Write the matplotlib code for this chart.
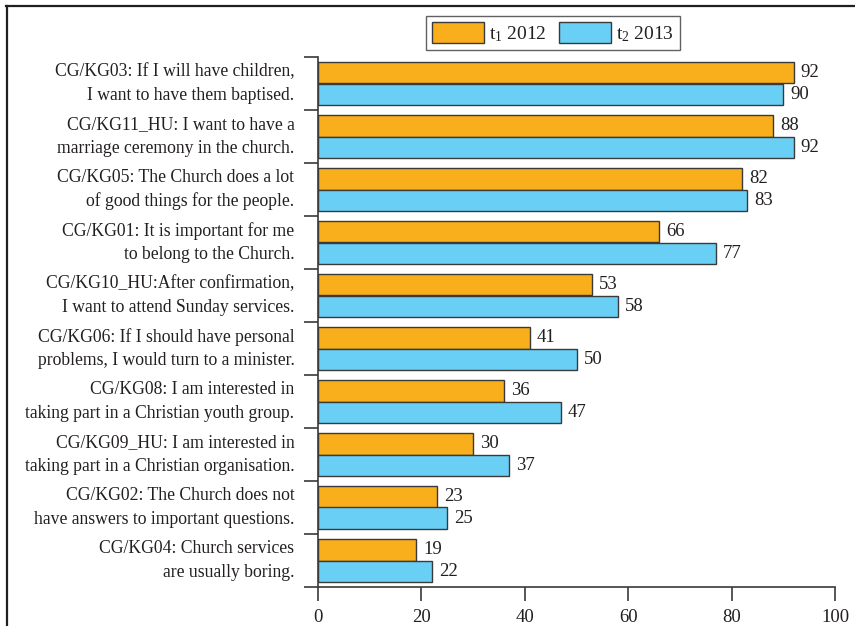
import matplotlib
matplotlib.use("Agg")
import matplotlib.pyplot as plt
import numpy as np
from matplotlib.lines import Line2D

plt.rcParams["font.family"] = ["Liberation Serif", "DejaVu Serif"]
plt.rcParams["mathtext.fontset"] = "custom"
plt.rcParams["mathtext.rm"] = "Liberation Serif"
plt.rcParams["mathtext.it"] = "Liberation Serif:italic"

categories = [
    "CG/KG03: If I will have children,\nI want to have them baptised.",
    "CG/KG11_HU: I want to have a\nmarriage ceremony in the church.",
    "CG/KG05: The Church does a lot\nof good things for the people.",
    "CG/KG01: It is important for me\nto belong to the Church.",
    "CG/KG10_HU:After confirmation,\nI want to attend Sunday services.",
    "CG/KG06: If I should have personal\nproblems, I would turn to a minister.",
    "CG/KG08: I am interested in\ntaking part in a Christian youth group.",
    "CG/KG09_HU: I am interested in\ntaking part in a Christian organisation.",
    "CG/KG02: The Church does not\nhave answers to important questions.",
    "CG/KG04: Church services\nare usually boring.",
]
t1_2012 = [92, 88, 82, 66, 53, 41, 36, 30, 23, 19]
t2_2013 = [90, 92, 83, 77, 58, 50, 47, 37, 25, 22]
series_labels = [r"t$_\mathrm{1}$ 2012", r"t$_\mathrm{2}$ 2013"]
x_ticks = [0, 20, 40, 60, 80, 100]

ORANGE = "#F9AE1C"
BLUE = "#69CFF4"
EDGE = "#3a3a3a"
TEXT = "#231F20"

fig = plt.figure(figsize=(8.55, 6.26), dpi=100)
ax = fig.add_axes([318 / 855, 1 - 587 / 626, (835 - 318) / 855, (587 - 57) / 626])

n = len(categories)
pos = np.arange(n)
h = 0.4
b1 = ax.barh(pos - h / 2, t1_2012, height=h, color=ORANGE, edgecolor=EDGE,
             linewidth=1.0, label=series_labels[0])
b2 = ax.barh(pos + h / 2, t2_2013, height=h, color=BLUE, edgecolor=EDGE,
             linewidth=1.0, label=series_labels[1])

for bars, vals in ((b1, t1_2012), (b2, t2_2013)):
    for rect, v in zip(bars, vals):
        ax.annotate(str(v), (v, rect.get_y() + rect.get_height() / 2),
                    xytext=(5, 0), textcoords="offset points",
                    ha="left", va="center", fontsize=13.5, color=TEXT)

ax.set_ylim(n - 0.5, -0.5)
ax.set_xlim(0, 100)
ax.set_xticks(x_ticks)
ax.set_xticklabels([str(t) for t in x_ticks], fontsize=13.5, color=TEXT)

ax.set_yticks(np.arange(n + 1) - 0.5)
ax.set_yticklabels([])
ax.set_yticks(pos, minor=True)
ax.set_yticklabels(categories, minor=True, fontsize=12.7, color=TEXT,
                   linespacing=1.5, ha="right", va="center")
ax.tick_params(axis="y", which="minor", length=0, pad=17)
ax.tick_params(axis="y", which="major", direction="out", length=10,
               width=1.2, color=EDGE)
ax.tick_params(axis="x", direction="out", length=10, width=1.2, color=EDGE,
               pad=6)

for s in ("top", "right"):
    ax.spines[s].set_visible(False)
for s in ("left", "bottom"):
    ax.spines[s].set_color(EDGE)
    ax.spines[s].set_linewidth(1.2)

leg = ax.legend(loc="center", bbox_to_anchor=(553 / 855, 1 - 33 / 626),
                bbox_transform=fig.transFigure, ncol=2, fontsize=14,
                frameon=True, fancybox=False, handlelength=2.7,
                handleheight=1.25, handletextpad=0.26, columnspacing=0.6,
                borderpad=0.3, labelcolor=TEXT)
leg.get_frame().set_edgecolor(EDGE)
leg.get_frame().set_linewidth(1.0)

# outer frame: top and left rules
fig.add_artist(Line2D([6 / 855, 1], [1 - 6 / 626, 1 - 6 / 626],
                      transform=fig.transFigure, color="#231F20", lw=1.6))
fig.add_artist(Line2D([7 / 855, 7 / 855], [0, 1 - 6 / 626],
                      transform=fig.transFigure, color="#231F20", lw=1.6))

fig.savefig("out.png", dpi=100)
